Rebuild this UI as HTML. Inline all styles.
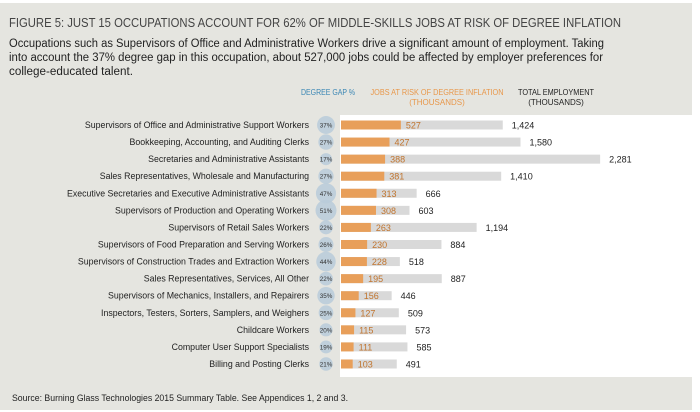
<!DOCTYPE html>
<html><head><meta charset="utf-8"><style>
html,body{margin:0;padding:0;background:#fff;}
svg{display:block;font-family:"Liberation Sans",sans-serif;}
</style></head><body>
<svg width="700" height="412" viewBox="0 0 700 412">
<rect x="0" y="3" width="692" height="407" fill="#e5e5e0"/>
<rect x="340" y="115" width="360" height="262" fill="#ffffff"/>
<text x="9" y="27" font-size="13" fill="#444" textLength="612" lengthAdjust="spacingAndGlyphs">FIGURE 5: JUST 15 OCCUPATIONS ACCOUNT FOR 62% OF MIDDLE-SKILLS JOBS AT RISK OF DEGREE INFLATION</text>
<g font-size="11.5" fill="#222">
<text x="9" y="47" textLength="595" lengthAdjust="spacingAndGlyphs">Occupations such as Supervisors of Office and Administrative Workers drive a significant amount of employment. Taking</text>
<text x="9" y="61" textLength="594" lengthAdjust="spacingAndGlyphs">into account the 37% degree gap in this occupation, about 527,000 jobs could be affected by employer preferences for</text>
<text x="9" y="75" textLength="124" lengthAdjust="spacingAndGlyphs">college-educated talent.</text>
</g>
<text x="328" y="95" font-size="8" fill="#3a86b4" text-anchor="middle" textLength="54" lengthAdjust="spacingAndGlyphs">DEGREE GAP %</text>
<g font-size="8" fill="#e8974a" text-anchor="middle">
<text x="437" y="95" textLength="133" lengthAdjust="spacingAndGlyphs">JOBS AT RISK OF DEGREE INFLATION</text>
<text x="437" y="105">(THOUSANDS)</text>
</g>
<g font-size="8" fill="#222" text-anchor="middle">
<text x="556" y="95" textLength="76" lengthAdjust="spacingAndGlyphs">TOTAL EMPLOYMENT</text>
<text x="556" y="105">(THOUSANDS)</text>
</g>
<g id="rows"></g>
<text x="12" y="401" font-size="9" fill="#222" textLength="336" lengthAdjust="spacingAndGlyphs">Source: Burning Glass Technologies 2015 Summary Table. See Appendices 1, 2 and 3.</text>
</svg>
<script>
const categories = ["Supervisors of Office and Administrative Support Workers","Bookkeeping, Accounting, and Auditing Clerks","Secretaries and Administrative Assistants","Sales Representatives, Wholesale and Manufacturing","Executive Secretaries and Executive Administrative Assistants","Supervisors of Production and Operating Workers","Supervisors of Retail Sales Workers","Supervisors of Food Preparation and Serving Workers","Supervisors of Construction Trades and Extraction Workers","Sales Representatives, Services, All Other","Supervisors of Mechanics, Installers, and Repairers","Inspectors, Testers, Sorters, Samplers, and Weighers","Childcare Workers","Computer User Support Specialists","Billing and Posting Clerks"];
const degreeGap = [37,27,17,27,47,51,22,26,44,22,35,25,20,19,21];
const jobsAtRisk = [527,427,388,381,313,308,263,230,228,195,156,127,115,111,103];
const totalEmployment = [1424,1580,2281,1410,666,603,1194,884,518,887,446,509,573,585,491];

const NS = "http://www.w3.org/2000/svg";
const x0 = 341, pxPer = 0.1136;
const xScale = v => x0 + v * pxPer;
const yScale = i => 125 + i * 17.07;
const rScale = p => 10.5 * Math.sqrt(p / 51);
const fmt = v => v.toLocaleString("en-US");
const g = document.getElementById("rows");
function mk(tag, attrs, text) {
  const e = document.createElementNS(NS, tag);
  for (const k in attrs) e.setAttribute(k, attrs[k]);
  if (text !== undefined) e.textContent = text;
  g.appendChild(e);
  return e;
}
categories.forEach((c, i) => {
  const y = yScale(i);
  let e;
  e = mk("text", {x: 309, y: y + 3, "font-size": 8.8, fill: "#222", "text-anchor": "end"}, c);
  
  
  e = mk("circle", {cx: 326, cy: y, r: rScale(degreeGap[i]), fill: "#b9cbd9", opacity: 0.85});
  
  
  e = mk("text", {x: 326, y: y + 2.5, "font-size": 6.3, fill: "#333", "text-anchor": "middle"}, degreeGap[i] + "%");
  
  
  e = mk("rect", {x: x0, y: y - 4.5, width: xScale(totalEmployment[i]) - x0, height: 9, fill: "#d9d9d9"});
  
  
  e = mk("rect", {x: x0, y: y - 4.5, width: xScale(jobsAtRisk[i]) - x0, height: 9, fill: "#e89f5a"});
  
  
  e = mk("text", {x: xScale(jobsAtRisk[i]) + 5, y: y + 3.5, "font-size": 9, fill: "#c0742e"}, fmt(jobsAtRisk[i]));
  
  
  e = mk("text", {x: xScale(totalEmployment[i]) + 9, y: y + 3.5, "font-size": 9, fill: "#222"}, fmt(totalEmployment[i]));
  
  
});
</script>
</body></html>
